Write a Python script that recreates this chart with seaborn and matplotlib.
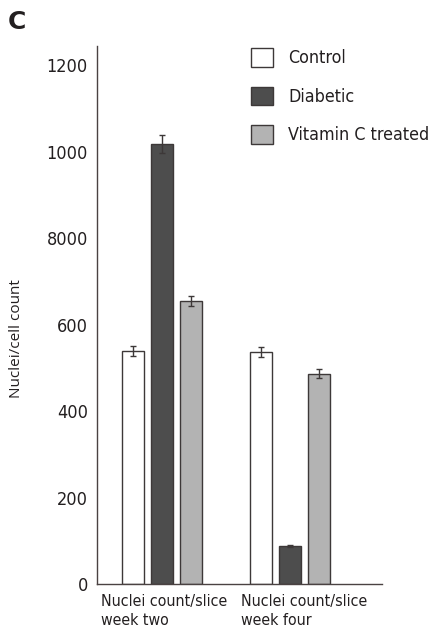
import matplotlib
matplotlib.use("Agg")
import matplotlib.pyplot as plt
import matplotlib.transforms as mtransforms
import seaborn as sns
import pandas as pd

# ---- data ----
groups = ["Nuclei count/slice\nweek two", "Nuclei count/slice\nweek four"]
treatments = ["Control", "Diabetic", "Vitamin C treated"]
week_two = [539, 1017, 654]
week_four = [536, 88, 486]
err_week_two = [11, 21, 12]
err_week_four = [12, 2, 10]
ytick_values = [0, 200, 400, 600, 800, 1000, 1200]
ytick_labels = ["0", "200", "400", "600", "8000", "1000", "1200"]
colors = ["#ffffff", "#4d4d4d", "#b3b3b3"]

rows = []
for g, vals, errs in [(groups[0], week_two, err_week_two), (groups[1], week_four, err_week_four)]:
    for t, v, e in zip(treatments, vals, errs):
        rows.append({"group": g, "treatment": t, "value": v, "err": e})
df = pd.DataFrame(rows)

sns.set_theme(style="white")
TXT = "#231f20"
plt.rcParams["font.family"] = ["DejaVu Sans"]
plt.rcParams["font.stretch"] = "condensed"
plt.rcParams["text.color"] = TXT
plt.rcParams["axes.labelcolor"] = TXT
plt.rcParams["xtick.color"] = TXT
plt.rcParams["ytick.color"] = TXT

fig = plt.figure(figsize=(4.34, 6.35), dpi=100)
ax = fig.add_axes([97 / 434, 1 - 584 / 635, (382 - 97) / 434, (584 - 46) / 635])

sns.barplot(data=df, x="group", y="value", hue="treatment", order=groups,
            hue_order=treatments, palette=colors, errorbar=None,
            width=0.68, gap=0.24, edgecolor="#3d3838", linewidth=1.0,
            ax=ax, legend=True)

# error bars from bar geometry
for cont, t in zip(ax.containers, treatments):
    sub = df[df["treatment"] == t].set_index("group").loc[groups]
    xs = [p.get_x() + p.get_width() / 2 for p in cont.patches]
    ax.errorbar(xs, sub["value"].values, yerr=sub["err"].values, fmt="none",
                ecolor="#3d3838", elinewidth=1.0, capsize=2.3, capthick=1.0, zorder=5)

ax.set_xlim(-0.508, 1.719)
ax.set_ylim(0, 1244)
ax.set_yticks(ytick_values)
ax.set_yticklabels(ytick_labels, fontsize=13)
ax.tick_params(axis="y", length=0, pad=6.5)
ax.set_xticks([0, 1])
ax.set_xticklabels(groups, fontsize=11.4, multialignment="left", linespacing=1.35)
ax.tick_params(axis="x", length=0, pad=7)
# second label sits slightly right of its group centre
for lbl, dx in zip(ax.get_xticklabels(), [2.5, 14.5]):
    lbl.set_transform(lbl.get_transform() + mtransforms.ScaledTranslation(dx / 100, 0, fig.dpi_scale_trans))

ax.set_xlabel("")
ax.set_ylabel("Nuclei/cell count", fontsize=11, family=["Open Sans", "DejaVu Sans"], fontstretch="normal")
ax.yaxis.label.set(rotation_mode="default", ha="center", va="center")
ax.yaxis.set_label_coords((17 - 97) / 285, (584 - 338.5) / 538)

for s in ["top", "right"]:
    ax.spines[s].set_visible(False)
for s in ["left", "bottom"]:
    ax.spines[s].set_color("#4a4242")
    ax.spines[s].set_linewidth(1.0)

leg = ax.legend(loc="upper left", bbox_to_anchor=(251 / 434, 1 - 48 / 635),
                bbox_transform=fig.transFigure, frameon=False, fontsize=12.8,
                handlelength=1.24, handleheight=1.24, handletextpad=0.85,
                labelspacing=1.08, borderpad=0, borderaxespad=0)
for h in leg.legend_handles:
    h.set_edgecolor("#3d3838")
    h.set_linewidth(1.0)

fig.text(8 / 434, 1 - 22 / 635, "C", fontsize=18, fontweight="bold", ha="left", va="center",
         fontstretch="normal")

fig.savefig("out.png", dpi=100, facecolor="white")
